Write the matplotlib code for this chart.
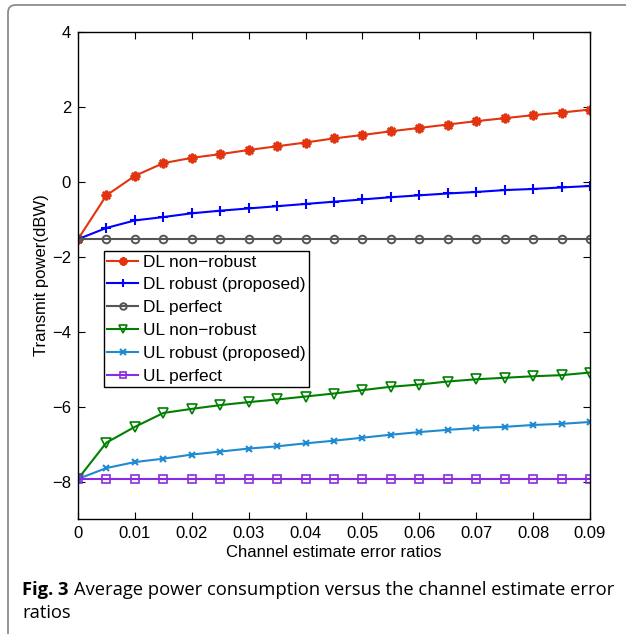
import matplotlib
matplotlib.use("Agg")
import matplotlib.pyplot as plt
from matplotlib.patches import FancyBboxPatch
import numpy as np

x = [0, 0.005, 0.01, 0.015, 0.02, 0.025, 0.03, 0.035, 0.04, 0.045,
     0.05, 0.055, 0.06, 0.065, 0.07, 0.075, 0.08, 0.085, 0.09]
dl_nonrobust = [-1.53, -0.36, 0.16, 0.50, 0.64, 0.74, 0.85, 0.95, 1.05, 1.16,
                1.25, 1.35, 1.44, 1.53, 1.62, 1.70, 1.78, 1.85, 1.93]
dl_robust = [-1.53, -1.23, -1.03, -0.94, -0.84, -0.77, -0.71, -0.65, -0.59, -0.53,
             -0.47, -0.41, -0.36, -0.31, -0.27, -0.22, -0.19, -0.15, -0.11]
dl_perfect = [-1.53] * 19
ul_nonrobust = [-7.93, -6.96, -6.54, -6.17, -6.06, -5.96, -5.88, -5.81, -5.73, -5.65,
                -5.56, -5.47, -5.41, -5.33, -5.27, -5.23, -5.19, -5.16, -5.09]
ul_robust = [-7.93, -7.64, -7.48, -7.39, -7.28, -7.20, -7.12, -7.06, -6.98, -6.91,
             -6.83, -6.75, -6.68, -6.62, -6.57, -6.54, -6.49, -6.46, -6.41]
ul_perfect = [-7.93] * 19

xticks = [0, 0.01, 0.02, 0.03, 0.04, 0.05, 0.06, 0.07, 0.08, 0.09]
xticklabels = ["0", "0.01", "0.02", "0.03", "0.04", "0.05", "0.06", "0.07", "0.08", "0.09"]
yticks = [-8, -6, -4, -2, 0, 2, 4]
yticklabels = ["\u22128", "\u22126", "\u22124", "\u22122", "0", "2", "4"]

plt.rcParams['font.family'] = ['Liberation Sans', 'DejaVu Sans']

fig = plt.figure(figsize=(6.26, 6.34), dpi=100)
ax = fig.add_axes([78/626, 1 - 519/634, (590-78)/626, (519-32)/634])

lw = 1.5
ax.plot(x, dl_nonrobust, color='#e2340f', marker=(8, 2, 0), ms=7, mew=1.8, lw=lw, label='DL non\u2212robust')
ax.plot(x, dl_robust, color='#0000ff', marker='+', ms=7, mew=1.5, lw=lw, label='DL robust (proposed)')
ax.plot(x, dl_perfect, color='#555555', marker='o', ms=5.5, mfc='none', mew=1.4, lw=lw, label='DL perfect')
ax.plot(x, ul_nonrobust, color='#008000', marker='v', ms=7, mfc='none', mew=1.2, lw=lw, label='UL non\u2212robust')
ax.plot(x, ul_robust, color='#1f8ad2', marker='x', ms=4.5, mew=1.5, lw=lw, label='UL robust (proposed)')
ax.plot(x, ul_perfect, color='#8a2be2', marker='s', ms=5.5, mfc='none', mew=1.2, lw=lw, label='UL perfect')

ax.set_xlim(0, 0.09)
ax.set_ylim(-9, 4)
ax.set_xticks(xticks)
ax.set_xticklabels(xticklabels)
ax.set_yticks(yticks)
ax.set_yticklabels(yticklabels)
ax.tick_params(direction='in', top=True, right=True, labelsize=12, length=5, width=0.8, pad=5)
for s in ax.spines.values():
    s.set_linewidth(1.0)
ax.set_xlabel('Channel estimate error ratios', fontsize=12, labelpad=3)
ax.set_ylabel('Transmit power(dBW)', fontsize=12, labelpad=2)

leg = ax.legend(loc='upper left', bbox_to_anchor=(0.05, 0.55), fontsize=12.4,
                frameon=True, fancybox=False, edgecolor='black', framealpha=1,
                handlelength=1.8, handletextpad=0.3, borderpad=0.2, labelspacing=0.45,
                borderaxespad=0, markerscale=0.85)
leg.get_frame().set_linewidth(1.0)

# figure frame (top and left border with rounded corner)
frame = FancyBboxPatch((8/626, -0.2), 1.2, 1.2 - 5/634,
                       boxstyle="round,pad=0,rounding_size=0.012",
                       transform=fig.transFigure, fill=False,
                       edgecolor='#8c8c8c', lw=1.3, clip_on=False)
fig.patches.append(frame)

# caption
renderer = fig.canvas.get_renderer()
cap_font = ['Open Sans', 'DejaVu Sans']
cap_size = 13.2
t1 = fig.text(22/626, 1 - 590/634, 'Fig. 3', fontsize=cap_size, fontweight='bold',
              family=cap_font, va='center', ha='left')
bb = t1.get_window_extent(renderer=renderer)
x2 = (bb.x1 + 5) / fig.bbox.width
fig.text(x2, 1 - 590/634, 'Average power consumption versus the channel estimate error',
         fontsize=cap_size, family=cap_font, va='center', ha='left')
fig.text(22/626, 1 - 613/634, 'ratios', fontsize=cap_size, family=cap_font, va='center', ha='left')

fig.savefig('out.png', dpi=100)
